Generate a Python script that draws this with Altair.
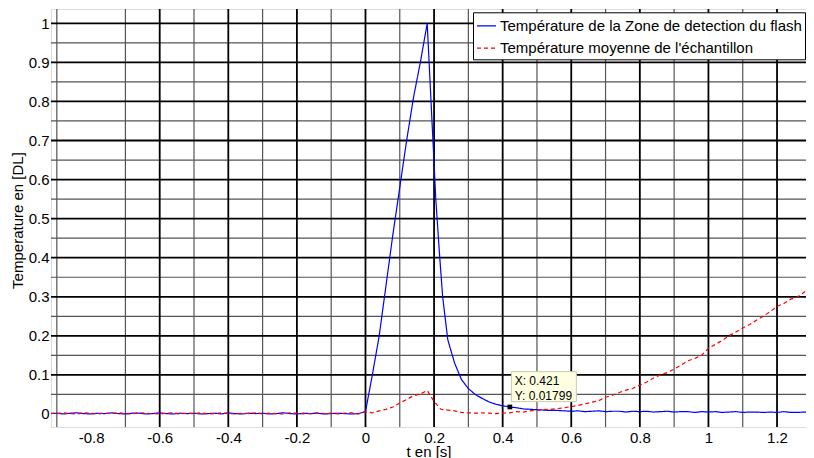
import altair as alt
import numpy as np
import pandas as pd

FONT = "Liberation Sans"
NAME_B = "Température de la Zone de detection du flash"
NAME_R = "Température moyenne de l'échantillon"

# ---- data ----
t_pre = np.round(np.arange(-0.92, -0.0001, 0.02), 3)  # 46 samples before the flash
blue_pre = [0.001, 0.002, 0.000, 0.002, 0.003, 0.001, 0.000, 0.002, 0.001, 0.003,
            0.001, 0.000, 0.002, 0.002, 0.000, 0.001, 0.003, 0.001, 0.000, 0.002,
            0.001, 0.002, 0.000, 0.001, 0.002, 0.000, 0.003, 0.001, 0.000, 0.002,
            0.001, 0.002, 0.000, 0.001, 0.003, 0.001, 0.000, 0.002, 0.001, 0.002,
            0.000, 0.001, 0.002, 0.001, 0.000, 0.001]
red_pre = [0.002, 0.001, 0.003, 0.001, 0.000, 0.003, 0.002, 0.000, 0.002, 0.001,
           0.003, 0.001, 0.000, 0.003, 0.002, 0.001, 0.000, 0.002, 0.003, 0.000,
           0.002, 0.001, 0.003, 0.000, 0.001, 0.003, 0.001, 0.000, 0.002, 0.001,
           0.003, 0.000, 0.002, 0.001, 0.000, 0.003, 0.002, 0.000, 0.001, 0.003,
           0.001, 0.002, 0.000, 0.002, 0.003, 0.000]

blue_peak_t = [0.0, 0.02, 0.04, 0.06, 0.08, 0.10, 0.12, 0.14, 0.16, 0.18,
               0.205, 0.215, 0.225, 0.24, 0.26, 0.28, 0.30, 0.32, 0.34, 0.36,
               0.38, 0.40, 0.421, 0.44, 0.46, 0.48, 0.50, 0.52, 0.54, 0.56]
blue_peak = [0.006, 0.10, 0.20, 0.33, 0.46, 0.58, 0.70, 0.81, 0.90, 1.0,
             0.55, 0.42, 0.30, 0.19, 0.13, 0.088, 0.065, 0.05, 0.04, 0.031,
             0.025, 0.021, 0.01799, 0.016, 0.013, 0.012, 0.011, 0.010, 0.009, 0.009]

t_tail = np.round(np.arange(0.58, 1.3201, 0.02), 3)  # 38 samples
blue_tail = [0.008, 0.007, 0.008, 0.006, 0.007, 0.008, 0.006, 0.007, 0.007, 0.005,
             0.007, 0.006, 0.007, 0.005, 0.006, 0.007, 0.005, 0.006, 0.006, 0.004,
             0.006, 0.005, 0.006, 0.004, 0.005, 0.006, 0.004, 0.005, 0.005, 0.004,
             0.005, 0.004, 0.006, 0.004, 0.004, 0.005, 0.003, 0.003]

t_red = np.round(np.arange(0.0, 1.3201, 0.02), 3)  # 67 samples
red_post = [0.006, 0.003, 0.008, 0.012, 0.018, 0.028, 0.037, 0.047, 0.051, 0.060,
            0.032, 0.012, 0.010, 0.008, 0.004, 0.003, 0.002, 0.003, 0.002, 0.001,
            0.002, 0.003, 0.006, 0.005, 0.008, 0.010, 0.011, 0.012, 0.014, 0.016,
            0.019, 0.022, 0.026, 0.030, 0.034, 0.043, 0.048, 0.055, 0.061, 0.066,
            0.074, 0.082, 0.092, 0.100, 0.106, 0.115, 0.125, 0.136, 0.142, 0.150,
            0.168, 0.178, 0.188, 0.200, 0.210, 0.220, 0.229, 0.240, 0.250, 0.262,
            0.275, 0.283, 0.294, 0.300, 0.312, 0.331, 0.345]

x_ticks = [-0.8, -0.6, -0.4, -0.2, 0, 0.2, 0.4, 0.6, 0.8, 1, 1.2]
y_ticks = [0, 0.1, 0.2, 0.3, 0.4, 0.5, 0.6, 0.7, 0.8, 0.9, 1]
x_grid_major = [-0.6, -0.4, -0.2, 0.0, 0.2, 0.4, 0.6, 0.8, 1.0, 1.2]
x_grid_minor = [-0.9, -0.7, -0.5, -0.3, -0.1, 0.1, 0.3, 0.5, 0.7, 0.9, 1.1, 1.3]
y_grid_major = [0.1, 0.2, 0.3, 0.4, 0.5, 0.6, 0.7, 0.8, 0.9, 1.0]
y_grid_minor = [0.05, 0.15, 0.25, 0.35, 0.45, 0.55, 0.65, 0.75, 0.85, 0.95]

tip_x = 0.421
tip_y = 0.01799

# ---- tables ----
blue_t = list(t_pre) + blue_peak_t + list(t_tail)
blue_v = blue_pre + blue_peak + blue_tail
red_t = list(t_pre) + list(t_red)
red_v = red_pre + red_post
df = pd.DataFrame({
    "t": blue_t + red_t,
    "T": blue_v + red_v,
    "serie": [NAME_B] * len(blue_t) + [NAME_R] * len(red_t),
    "k": list(range(len(blue_t))) + list(range(len(red_t))),
})

xs = alt.Scale(domain=[-0.917, 1.2845], nice=False, zero=False)
ys = alt.Scale(domain=[-0.0333, 1.0366], nice=False, zero=False)

X_TITLE = "t en [s]"
Y_TITLE = "Temperature en [DL]"
x_axis = alt.Axis(values=x_ticks, labelExpr="'' + datum.value", ticks=False, grid=False,
                  domain=False, labelFont=FONT, labelFontSize=15, labelColor="black",
                  labelPadding=3, labelFlush=False,
                  titleFont=FONT, titleFontSize=15, titleFontWeight="normal", titleColor="black",
                  titleY=29, titleBaseline="alphabetic")
y_axis = alt.Axis(values=y_ticks, labelExpr="'' + datum.value", ticks=False, grid=False,
                  domain=False, labelFont=FONT, labelFontSize=15, labelColor="black",
                  labelPadding=2, labelFlush=False,
                  titleFont=FONT, titleFontSize=15, titleFontWeight="normal", titleColor="black",
                  titleX=-34, titleY=211, titleAngle=270, titleAlign="center",
                  titleBaseline="middle")


def X(field):
    return alt.X(field, scale=xs, axis=x_axis, title=X_TITLE)


def Y(field):
    return alt.Y(field, scale=ys, axis=y_axis, title=Y_TITLE)


def vgrid(vals, color, width):
    return alt.Chart(pd.DataFrame({"g": vals})).mark_rule(color=color, strokeWidth=width).encode(
        x=X("g:Q"))


def hgrid(vals, color, width):
    return alt.Chart(pd.DataFrame({"g": vals})).mark_rule(color=color, strokeWidth=width).encode(
        y=Y("g:Q"))


leg = alt.Legend(
    title=None, orient="none", legendX=422, legendY=3.3,
    fillColor="white", strokeColor="black", padding=3, rowPadding=3.4,
    symbolType="stroke", symbolSize=361, symbolStrokeWidth=1.2,
    labelFont=FONT, labelFontSize=15, labelColor="black", labelOffset=3, labelLimit=500,
)

lines = alt.Chart(df).mark_line(strokeWidth=1.2, clip=True).encode(
    x=X("t:Q"),
    y=Y("T:Q"),
    color=alt.Color("serie:N", scale=alt.Scale(domain=[NAME_B, NAME_R], range=["#0000ff", "#ff0000"]),
                    legend=leg),
    strokeDash=alt.StrokeDash("serie:N", scale=alt.Scale(domain=[NAME_B, NAME_R], range=[[1, 0], [4, 3]]),
                              legend=leg),
    order="k:Q",
)

tip = pd.DataFrame({"x": [tip_x], "y": [tip_y],
                    "l1": [f"X: {tip_x}"], "l2": [f"Y: {tip_y}"]})
box = alt.Chart(tip).mark_rect(fill="#ffffe1", stroke="#c8c8b4", strokeWidth=1,
                               xOffset=1.5, x2Offset=66.5, yOffset=-35.3, y2Offset=-5.3).encode(
    x=X("x:Q"), x2="x:Q", y=Y("y:Q"), y2="y:Q")
txt1 = alt.Chart(tip).mark_text(align="left", baseline="middle", dx=4.8, dy=-26,
                                font=FONT, fontSize=12, color="black").encode(
    x=X("x:Q"), y=Y("y:Q"), text="l1:N")
txt2 = alt.Chart(tip).mark_text(align="left", baseline="middle", dx=4.8, dy=-11,
                                font=FONT, fontSize=12, color="black").encode(
    x=X("x:Q"), y=Y("y:Q"), text="l2:N")
marker = alt.Chart(tip).mark_square(size=22, color="black", opacity=1).encode(
    x=X("x:Q"), y=Y("y:Q"))

chart = alt.layer(
    vgrid(x_grid_minor, "#555555", 1.2),
    hgrid(y_grid_minor, "#555555", 1.2),
    vgrid(x_grid_major, "black", 1.8),
    hgrid(y_grid_major, "black", 1.8),
    lines, box, txt1, txt2, marker,
).properties(
    width=755, height=418,
    autosize=alt.AutoSizeParams(type="none"),
    padding={"left": 43, "top": 1, "right": 0, "bottom": 31},
).configure_view(
    stroke="black", strokeWidth=1.5
).configure(background="white")

chart.save("out.html", embed_options={"renderer": "svg", "actions": False})
